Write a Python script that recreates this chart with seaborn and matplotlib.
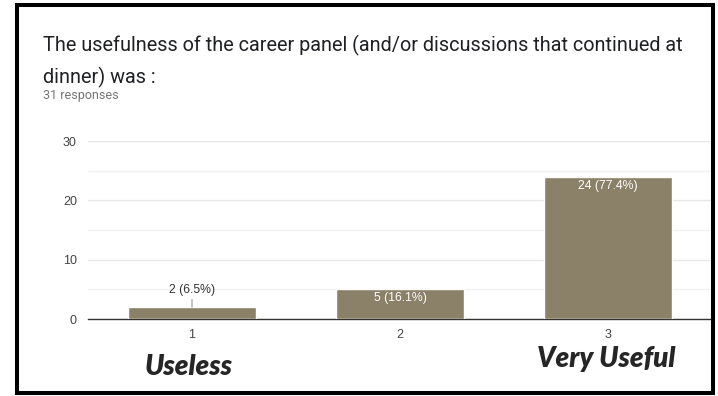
import matplotlib.pyplot as plt
import seaborn as sns
from matplotlib.patches import Rectangle

# dados
categorias = ["1", "2", "3"]
contagens = [2, 5, 24]
total_respostas = 31
rotulos_escala = ["Useless", "Very Useful"]

COR_BARRA = "#8b8068"

sns.set_style("white")
plt.rcParams["font.family"] = ["Liberation Sans", "DejaVu Sans"]

fig = plt.figure(figsize=(7.18, 3.96), dpi=100)
ax = fig.add_axes([88 / 718, 77 / 396, 624 / 718, 178 / 396])

sns.barplot(x=categorias, y=contagens, color=COR_BARRA, width=0.62,
            saturation=1, ax=ax, zorder=3)

ax.set_xlim(-0.5, 2.5)
ax.set_ylim(0, 30)
ax.set_yticks([0, 10, 20, 30])
ax.set_yticks([5, 15, 25], minor=True)
ax.grid(axis="y", which="major", color="#e8e8e8", linewidth=1, zorder=0)
ax.grid(axis="y", which="minor", color="#f2f2f2", linewidth=1, zorder=0)
ax.grid(axis="x", visible=False)
for lado in ["top", "right", "left"]:
    ax.spines[lado].set_visible(False)
ax.spines["bottom"].set_color("#333333")
ax.spines["bottom"].set_linewidth(1)
ax.tick_params(axis="both", which="both", length=0, labelsize=9, colors="#444444")
ax.tick_params(axis="y", pad=8)
ax.tick_params(axis="x", pad=7)
ax.set_xlabel("")
ax.set_ylabel("")

# rótulos de dados
for i, c in enumerate(contagens):
    texto = f"{c} ({c / total_respostas * 100:.1f}%)"
    if c < 3:
        ax.annotate(texto, xy=(i, c), xytext=(0, 11), textcoords="offset pixels",
                    ha="center", va="bottom", fontsize=8.8, color="#333333",
                    arrowprops=dict(arrowstyle="-", color="#999999", lw=0.8,
                                    shrinkA=0, shrinkB=0))
    else:
        ax.annotate(texto, xy=(i, c), xytext=(0, -9), textcoords="offset pixels",
                    ha="center", va="center", fontsize=8.8, color="white")

# título
fig.text(43 / 718, 1 - 51 / 396,
         "The usefulness of the career panel (and/or discussions that continued at",
         fontsize=14.3, family="Roboto", color="#202124", va="baseline")
fig.text(43 / 718, 1 - 83 / 396, "dinner) was :",
         fontsize=14.3, family="Roboto", color="#202124", va="baseline")
fig.text(43 / 718, 1 - 99 / 396, f"{total_respostas} responses",
         fontsize=9, family="Roboto", color="#757575", va="baseline")

# rótulos da escala
fig.text(189 / 718, 1 - 367 / 396, rotulos_escala[0], fontsize=20,
         family="Lato", weight="heavy", style="italic", ha="center", va="center")
fig.text(606 / 718, 1 - 359 / 396, rotulos_escala[1], fontsize=20,
         family="Lato", weight="heavy", style="italic", ha="center", va="center")

# moldura preta
fig.patches.append(Rectangle((17 / 718, 3.5 / 396), 696 / 718, 387.5 / 396,
                             transform=fig.transFigure, fill=False,
                             edgecolor="black", linewidth=2.9))

fig.savefig("out.png", dpi=100)
plt.close()
